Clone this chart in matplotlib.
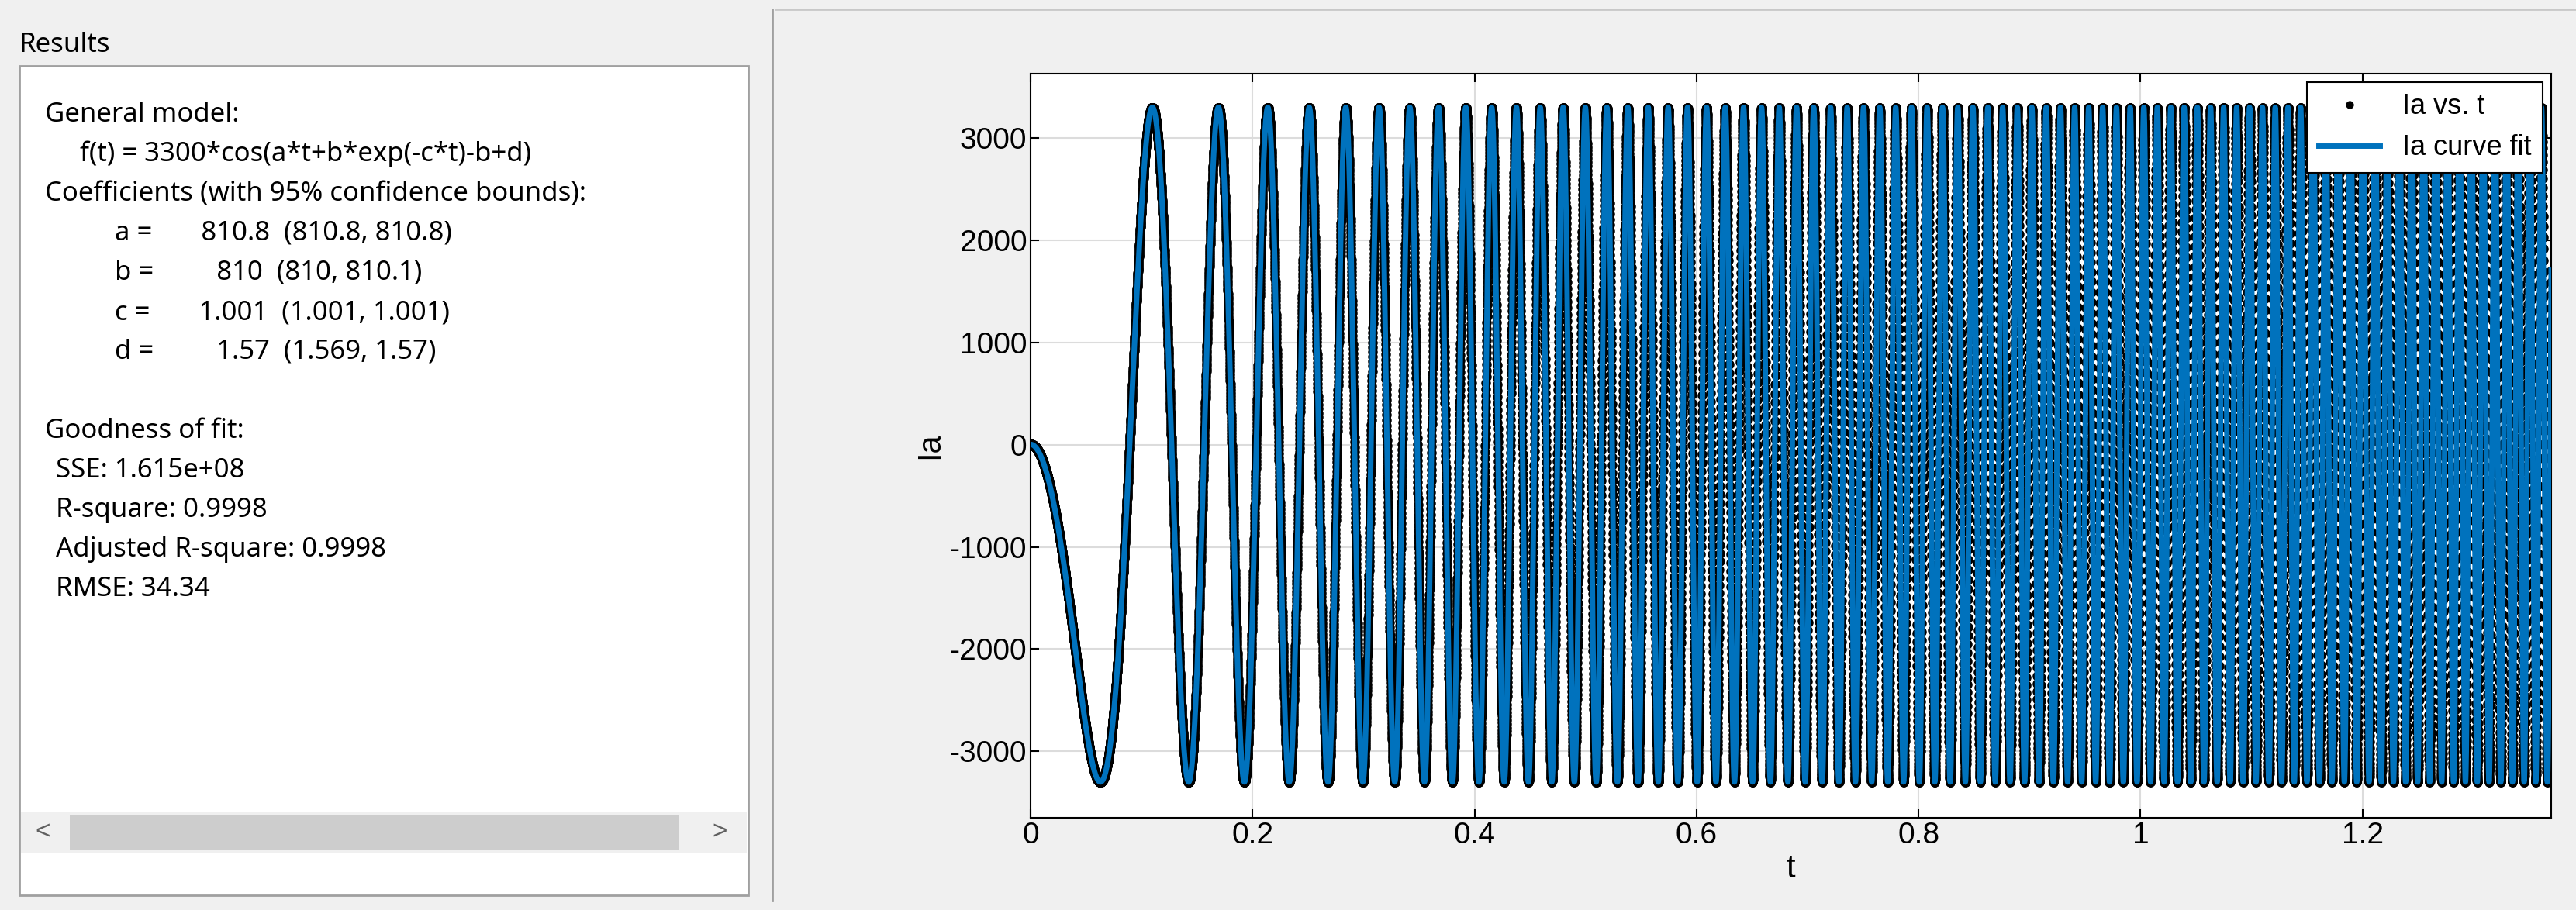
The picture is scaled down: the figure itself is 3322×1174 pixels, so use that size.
import numpy as np
import matplotlib
matplotlib.use("Agg")
import matplotlib.pyplot as plt
from matplotlib.patches import Rectangle

# Fitted coefficients
amp = 3300.0
a, b, c, d = 810.8, 810.0, 1.001, 1.57
t_end = 1.37
xticks = [0, 0.2, 0.4, 0.6, 0.8, 1.0, 1.2]
xtick_labels = ["0", "0.2", "0.4", "0.6", "0.8", "1", "1.2"]
yticks = [-3000, -2000, -1000, 0, 1000, 2000, 3000]

result_lines = [
    ("General model:", 0),
    ("f(t) = 3300*cos(a*t+b*exp(-c*t)-b+d)", 1),
    ("Coefficients (with 95% confidence bounds):", 0),
    ("a =       810.8  (810.8, 810.8)", 2),
    ("b =         810  (810, 810.1)", 2),
    ("c =       1.001  (1.001, 1.001)", 2),
    ("d =         1.57  (1.569, 1.57)", 2),
    ("", 0),
    ("Goodness of fit:", 0),
    ("SSE: 1.615e+08", 0.3),
    ("R-square: 0.9998", 0.3),
    ("Adjusted R-square: 0.9998", 0.3),
    ("RMSE: 34.34", 0.3),
]

t = np.linspace(0, t_end, 60000)
fit = amp * np.cos(a * t + b * np.exp(-c * t) - b + d)
td = np.linspace(0, t_end, 20000)
data = amp * np.cos(a * td + b * np.exp(-c * td) - b + d)

W, H = 3322, 1174
plt.rcParams["axes.unicode_minus"] = False
fig = plt.figure(figsize=(W / 100, H / 100), dpi=100, facecolor="#f0f0f0")
plt.rcParams["font.family"] = ["Liberation Sans", "DejaVu Sans"]

# Left results panel
fig.text(25 / W, 1 - 58 / H, "Results", fontsize=25, family="Noto Sans", va="center")
fig.patches.append(Rectangle((25 / W, 1 - 1155 / H), 940 / W, 1070 / H, transform=fig.transFigure,
                             facecolor="white", edgecolor="#a0a0a0", lw=2))
fig.patches.append(Rectangle((27 / W, 1 - 1100 / H), 936 / W, 52 / H, transform=fig.transFigure,
                             facecolor="#f0f0f0", edgecolor="none"))
fig.patches.append(Rectangle((90 / W, 1 - 1096 / H), 785 / W, 44 / H, transform=fig.transFigure,
                             facecolor="#cdcdcd", edgecolor="none"))
fig.text(45 / W, 1 - 1074 / H, "<", fontsize=24, color="#606060", va="center")
fig.text(918 / W, 1 - 1074 / H, ">", fontsize=24, color="#606060", va="center")
y0, dy = 148, 51
for i, (s, ind) in enumerate(result_lines):
    fig.text((58 + ind * 45) / W, 1 - (y0 + i * dy) / H, s, fontsize=25, family="Noto Sans", va="center")

fig.add_artist(plt.Line2D([996 / W, 996 / W], [0.01, 0.99], transform=fig.transFigure, color="#a0a0a0", lw=2))
fig.add_artist(plt.Line2D([1000 / W, 1], [0.99, 0.99], transform=fig.transFigure, color="#c8c8c8", lw=2))

ax = fig.add_axes([1329 / W, 1 - 1055 / H, (3290 - 1329) / W, (1055 - 95) / H])
ax.plot(td, data, ".", color="black", ms=16, label="Ia vs. t", zorder=2)
ax.plot(t, fit, "-", color="#0072bd", lw=5, label="Ia curve fit", zorder=3)
ax.set_xlim(0, t_end)
ax.set_ylim(-3650, 3630)
ax.set_xticks(xticks)
ax.set_xticklabels(xtick_labels)
ax.set_yticks(yticks)
ax.grid(True, color="#dcdcdc", lw=1.5)
ax.set_axisbelow(True)
ax.tick_params(labelsize=28, direction="in", length=8, width=1.5, top=True, right=True)
for sp in ax.spines.values():
    sp.set_linewidth(1.5)
ax.set_xlabel("t", fontsize=30)
ax.set_ylabel("Ia", fontsize=30)
leg = ax.legend(loc="upper right", fontsize=26, fancybox=False, framealpha=1, edgecolor="black",
                borderaxespad=0.3, handlelength=2.2, markerscale=0.8)
leg.get_frame().set_linewidth(1.5)

fig.savefig("out.png", dpi=100, facecolor=fig.get_facecolor())
